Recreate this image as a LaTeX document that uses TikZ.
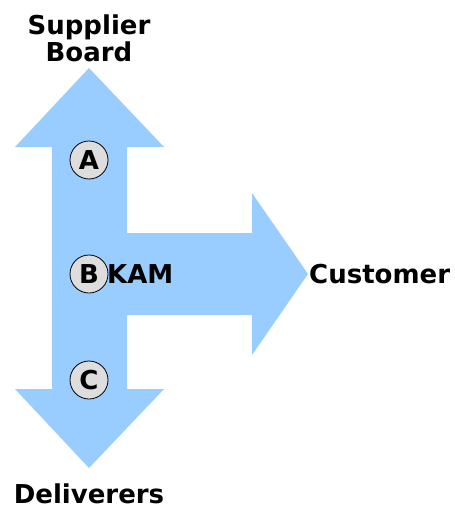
\documentclass[tikz,border=0pt]{standalone}
\usepackage{fontspec}
\setmainfont{DejaVu Sans}
\definecolor{flowblue}{HTML}{99CCFF}
\definecolor{stagegray}{HTML}{DDDDDD}

\begin{document}
\begin{tikzpicture}[x=1pt,y=-1pt,
  lbl/.style={font=\fontsize{26}{27}\selectfont\bfseries, inner sep=0pt},
  stage/.style={circle, draw, line width=0.8pt, fill=stagegray, minimum size=38pt, inner sep=0pt, font=\fontsize{26}{27}\selectfont\bfseries}]

\useasboundingbox (0,0) rectangle (455,506);

% the three-way arrow
\fill[flowblue] (89,68)--(164,147)--(127,147)--(127,233)--(252,233)--(252,193)
  --(308,274)--(252,355)--(252,315)--(127,315)--(127,389)--(164,389)
  --(89,468)--(15,389)--(52,389)--(52,147)--(15,147)--cycle;

\node [stage] (a) at (89,160) {A};
\node [stage] (b) at (89,274) {B};
\node [stage] (c) at (89,380) {C};

\node [lbl, anchor=west] (kam) at (107,274) {KAM};
\node [lbl, anchor=west] (customer) at (309,274) {Customer};
\node [lbl, align=center] (supplier) at (89,38) {Supplier\\Board};
\node [lbl, anchor=base] (deliverers) at (89,503) {Deliverers};

\end{tikzpicture}
\end{document}
